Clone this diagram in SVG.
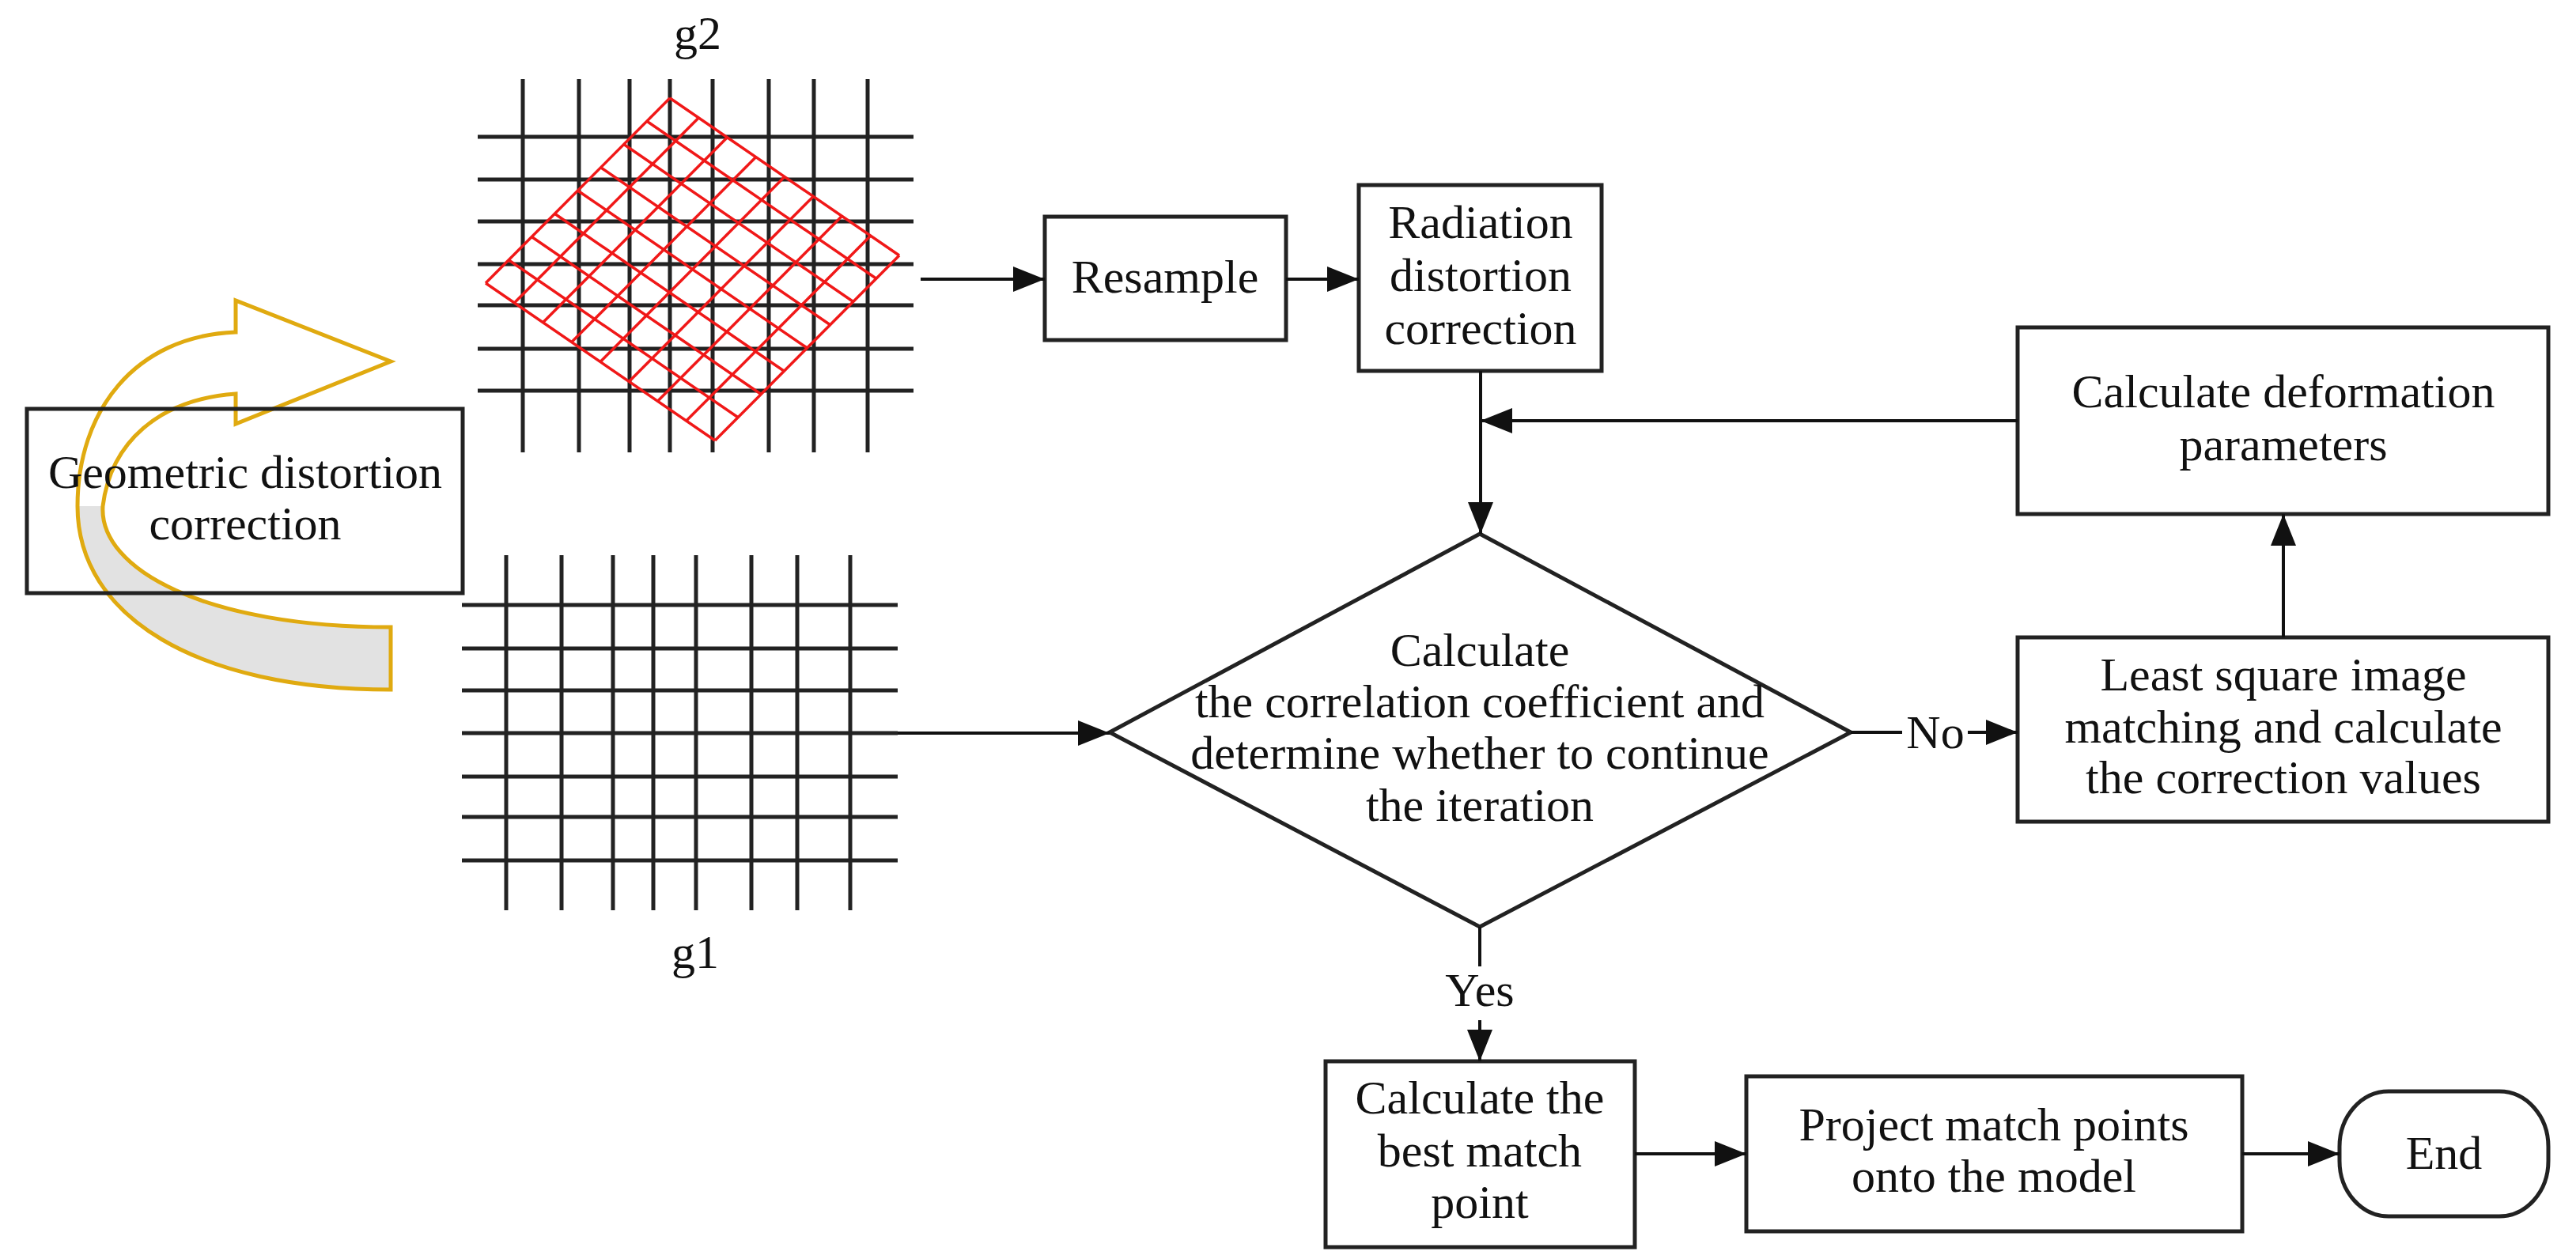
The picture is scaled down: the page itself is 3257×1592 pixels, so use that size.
<svg xmlns="http://www.w3.org/2000/svg" width="3257" height="1592" viewBox="0 0 3257 1592">
<style>
.t{font-family:"Liberation Serif","Times New Roman",serif;font-size:60px;fill:#111;text-anchor:middle}
.box{fill:none;stroke:#222;stroke-width:5}
.c{stroke:#111;stroke-width:4;fill:none}
.g{stroke:#222;stroke-width:5}
.r{stroke:#f01818;stroke-width:3.5}
.gold{stroke:#E0AA10;stroke-width:5}
</style>
<defs>
<marker id="a" markerUnits="userSpaceOnUse" markerWidth="40" markerHeight="32" refX="40" refY="16" orient="auto">
<path d="M0,0 L40,16 L0,32 Z" fill="#111"/>
</marker>
</defs>
<rect width="3257" height="1592" fill="#fff"/>

<g id="curved-arrow">
<path fill="#fff" d="M298,420 L298,380 L494,457 L298,536 L298,498 C200,505 140,560 130,640 C125,720 260,793 494,793 L494,872 C250,872 98,780 98,640 C98,520 170,425 298,420 Z"/>
<path fill="#e2e2e2" d="M98,640 C98,780 250,872 494,872 L494,793 C260,793 125,720 130,640 Z"/>
<path class="gold" fill="none" d="M298,420 L298,380 L494,457 L298,536 L298,498 C200,505 140,560 130,640 C125,720 260,793 494,793 L494,872 C250,872 98,780 98,640 C98,520 170,425 298,420 Z"/>
</g>

<g id="geometric">
<rect class="box" x="34" y="517" width="551" height="233"/>
<text class="t" x="310" y="617">Geometric distortion</text>
<text class="t" x="310" y="682">correction</text>
</g>

<g id="g2">
<g class="g">
<line x1="661" y1="100" x2="661" y2="572"/><line x1="732" y1="100" x2="732" y2="572"/>
<line x1="796" y1="100" x2="796" y2="572"/><line x1="847" y1="100" x2="847" y2="572"/>
<line x1="901" y1="100" x2="901" y2="572"/><line x1="972" y1="100" x2="972" y2="572"/>
<line x1="1029" y1="100" x2="1029" y2="572"/><line x1="1097" y1="100" x2="1097" y2="572"/>
<line x1="604" y1="173" x2="1155" y2="173"/><line x1="604" y1="227" x2="1155" y2="227"/>
<line x1="604" y1="280" x2="1155" y2="280"/><line x1="604" y1="334" x2="1155" y2="334"/>
<line x1="604" y1="386" x2="1155" y2="386"/><line x1="604" y1="441" x2="1155" y2="441"/>
<line x1="604" y1="494" x2="1155" y2="494"/>
</g>
<g class="r">
<line x1="847" y1="124" x2="1137" y2="323"/><line x1="817.9" y1="153.3" x2="1107.9" y2="352.3"/>
<line x1="788.8" y1="182.5" x2="1078.8" y2="381.5"/><line x1="759.6" y1="211.8" x2="1049.6" y2="410.8"/>
<line x1="730.5" y1="241" x2="1020.5" y2="440"/><line x1="701.4" y1="270.3" x2="991.4" y2="469.3"/>
<line x1="672.3" y1="299.5" x2="962.3" y2="498.5"/><line x1="643.1" y1="328.8" x2="933.1" y2="527.8"/>
<line x1="614" y1="358" x2="904" y2="557"/>
<line x1="847" y1="124" x2="614" y2="358"/><line x1="883.3" y1="148.9" x2="650.3" y2="382.9"/>
<line x1="919.5" y1="173.8" x2="686.5" y2="407.8"/><line x1="955.8" y1="198.6" x2="722.8" y2="432.6"/>
<line x1="992" y1="223.5" x2="759" y2="457.5"/><line x1="1028.3" y1="248.4" x2="795.3" y2="482.4"/>
<line x1="1064.5" y1="273.3" x2="831.5" y2="507.3"/><line x1="1100.8" y1="298.1" x2="867.8" y2="532.1"/>
<line x1="1137" y1="323" x2="904" y2="557"/>
</g>
<text class="t" x="882" y="62">g2</text>
</g>

<g id="g1">
<g class="g">
<line x1="640" y1="702" x2="640" y2="1151"/><line x1="710" y1="702" x2="710" y2="1151"/>
<line x1="775" y1="702" x2="775" y2="1151"/><line x1="826" y1="702" x2="826" y2="1151"/>
<line x1="880" y1="702" x2="880" y2="1151"/><line x1="950" y1="702" x2="950" y2="1151"/>
<line x1="1008" y1="702" x2="1008" y2="1151"/><line x1="1075" y1="702" x2="1075" y2="1151"/>
<line x1="584" y1="765" x2="1135" y2="765"/><line x1="584" y1="820" x2="1135" y2="820"/>
<line x1="584" y1="873" x2="1135" y2="873"/><line x1="584" y1="927" x2="1135" y2="927"/>
<line x1="584" y1="982" x2="1135" y2="982"/><line x1="584" y1="1033" x2="1135" y2="1033"/>
<line x1="584" y1="1088" x2="1135" y2="1088"/>
</g>
<text class="t" x="879" y="1224">g1</text>
</g>

<g id="resample">
<rect class="box" x="1321" y="274" width="305" height="156"/>
<text class="t" x="1473" y="370">Resample</text>
</g>
<g id="radiation">
<rect class="box" x="1718" y="234" width="307" height="235"/>
<text class="t" x="1872" y="301">Radiation</text>
<text class="t" x="1872" y="368">distortion</text>
<text class="t" x="1872" y="435">correction</text>
</g>
<g id="deformation">
<rect class="box" x="2551" y="414" width="671" height="236"/>
<text class="t" x="2887" y="515">Calculate deformation</text>
<text class="t" x="2887" y="582">parameters</text>
</g>
<g id="decision">
<polygon class="box" points="1871,675 2340,926 1871,1172 1403,926"/>
<text class="t" x="1871" y="842">Calculate</text>
<text class="t" x="1871" y="907">the correlation coefficient and</text>
<text class="t" x="1871" y="972">determine whether to continue</text>
<text class="t" x="1871" y="1038">the iteration</text>
</g>
<g id="leastsquare">
<rect class="box" x="2551" y="806" width="671" height="233"/>
<text class="t" x="2887" y="873">Least square image</text>
<text class="t" x="2887" y="939">matching and calculate</text>
<text class="t" x="2887" y="1003">the correction values</text>
</g>
<g id="bestmatch">
<rect class="box" x="1676" y="1342" width="391" height="235"/>
<text class="t" x="1871" y="1408">Calculate the</text>
<text class="t" x="1871" y="1475">best match</text>
<text class="t" x="1871" y="1540">point</text>
</g>
<g id="project">
<rect class="box" x="2208" y="1361" width="627" height="196"/>
<text class="t" x="2521" y="1442">Project match points</text>
<text class="t" x="2521" y="1507">onto the model</text>
</g>
<g id="end">
<rect class="box" x="2958" y="1380" width="264" height="158" rx="62" ry="70"/>
<text class="t" x="3090" y="1478">End</text>
</g>

<g id="connectors">
<line class="c" x1="1164" y1="353" x2="1321" y2="353" marker-end="url(#a)"/>
<line class="c" x1="1626" y1="353" x2="1718" y2="353" marker-end="url(#a)"/>
<line class="c" x1="1872" y1="469" x2="1872" y2="675" marker-end="url(#a)"/>
<line class="c" x1="2551" y1="532" x2="1872" y2="532" marker-end="url(#a)"/>
<line class="c" x1="2887" y1="806" x2="2887" y2="650" marker-end="url(#a)"/>
<line class="c" x1="1135" y1="927" x2="1403" y2="927" marker-end="url(#a)"/>
<line class="c" x1="2340" y1="926" x2="2405" y2="926"/>
<text class="t" x="2447" y="946">No</text>
<line class="c" x1="2488" y1="926" x2="2551" y2="926" marker-end="url(#a)"/>
<line class="c" x1="1871" y1="1172" x2="1871" y2="1222"/>
<text class="t" x="1871" y="1272">Yes</text>
<line class="c" x1="1871" y1="1290" x2="1871" y2="1342" marker-end="url(#a)"/>
<line class="c" x1="2067" y1="1459" x2="2208" y2="1459" marker-end="url(#a)"/>
<line class="c" x1="2835" y1="1459" x2="2958" y2="1459" marker-end="url(#a)"/>
</g>
</svg>
